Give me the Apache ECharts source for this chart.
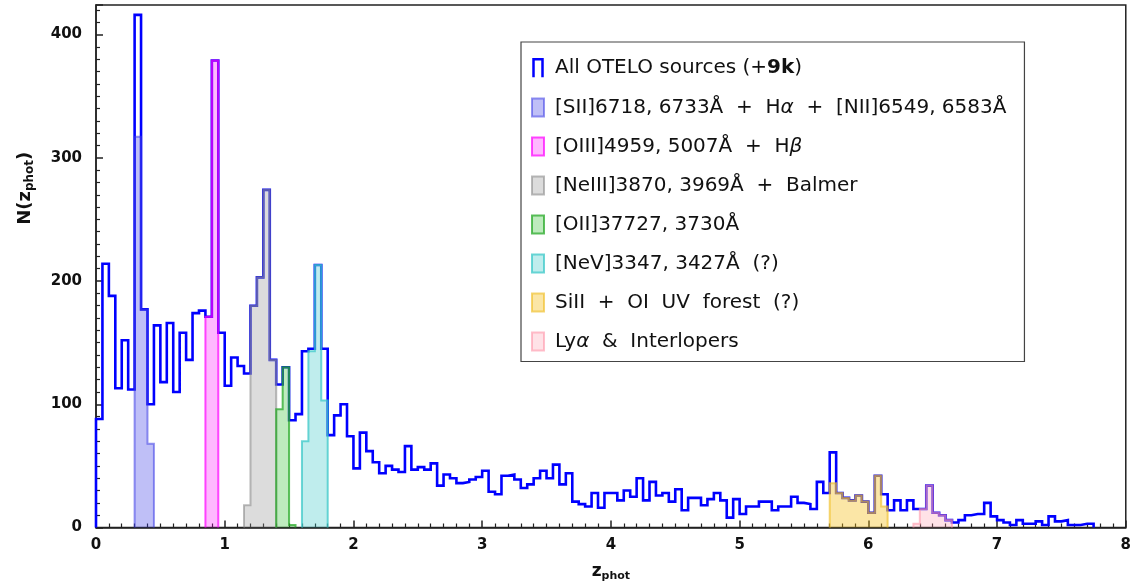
<!DOCTYPE html>
<html>
<head>
<meta charset="utf-8">
<script src="https://cdn.jsdelivr.net/npm/echarts@6/dist/echarts.min.js"></script>
<style>
html,body{margin:0;padding:0;background:#fff;}
#chart{width:1134px;height:587px;}
</style>
</head>
<body>
<div id="chart"></div>
<script>
// photometric redshift histogram, bins of 0.05 starting at z = 0
const binWidth = 0.05;
const allStart = 0;
const allCounts = [
  88, 214, 188, 113, 152, 112, 416, 177, 100, 164,
  118, 166, 110, 158, 136, 174, 176, 171, 379, 158,
  115, 138, 131, 125, 180, 203, 274, 136, 116, 130,
  87, 92, 143, 145, 213, 145, 75, 91, 100, 74,
  48, 77, 62, 53, 44, 50, 47, 45, 66, 47,
  49, 47, 52, 34, 43, 40, 36, 37, 39, 41,
  46, 29, 27, 42, 43, 39, 32, 35, 40, 46,
  40, 51, 35, 44, 21, 19, 17, 28, 16, 28,
  28, 22, 30, 25, 40, 22, 37, 26, 28, 21,
  31, 14, 24, 24, 18, 23, 28, 22, 8, 23,
  11, 17, 17, 21, 21, 14, 17, 17, 25, 20,
  19, 15, 37, 28, 61, 28, 24, 22, 26, 21,
  12, 42, 27, 14, 22, 14, 22, 15, 15, 34,
  12, 10, 6, 4, 6, 10, 11, 11, 20, 9,
  6, 4, 2, 6, 3, 3, 5, 2, 9, 5,
  6, 2, 2, 3, 3
];
// line-identified subsamples: first bin edge + counts
const siiStart = 0.30,  siiCounts = [317, 177, 68];
const oiiiStart = 0.85, oiiiCounts = [171, 379];
const neiiiStart = 1.15, neiiiCounts = [18, 180, 203, 274, 136];
const oiiStart = 1.40,  oiiCounts = [96, 130, 2];
const nevStart = 1.60,  nevCounts = [70, 143, 213, 103];
const siStart = 5.70,   siCounts = [36, 28, 24, 22, 26, 21, 12, 42, 17];
const lyaStart = 6.35,  lyaCounts = [3, 15, 34, 12, 10, 6];

const seriesNames = ['all', 'sii', 'oiii', 'neiii', 'oii', 'nev', 'si', 'lya'];
const legendLabels = {
  all: '{t|All OTELO sources (+}{b|9k}{t|)}',
  sii: '{t|[SII]6718, 6733Å  +  H}{i|α}{t|  +  [NII]6549, 6583Å}',
  oiii: '{t|[OIII]4959, 5007Å  +  H}{i|β}',
  neiii: '{t|[NeIII]3870, 3969Å  +  Balmer}',
  oii: '{t|[OII]37727, 3730Å}',
  nev: '{t|[NeV]3347, 3427Å  (?)}',
  si: '{t|SiII  +  OI  UV  forest  (?)}',
  lya: '{t|Ly}{i|α}{t|  &  Interlopers}'
};

const FONT = 'DejaVu Sans';

function steps(start, counts) {
  const end = +(start + counts.length * binWidth).toFixed(3);
  const pts = [[start, 0]];
  counts.forEach((c, i) => pts.push([+(start + i * binWidth).toFixed(3), c]));
  pts.push([end, counts[counts.length - 1]]);
  pts.push([end, 0]);
  return pts;
}

function hist(name, start, counts, line, fill, width, z) {
  const s = {
    name: name, type: 'line', step: 'end', data: steps(start, counts),
    symbol: 'none', silent: true, z: z,
    lineStyle: {color: line, width: width, join: 'miter'},
    itemStyle: {color: line}
  };
  if (fill) s.areaStyle = {color: fill, opacity: 1};
  return s;
}

const styles = {
  all:   {line: '#0000ff', fill: null},
  sii:   {line: 'rgba(60,60,230,0.55)', fill: 'rgba(60,60,230,0.33)'},
  oiii:  {line: 'rgba(255,0,255,0.7)', fill: 'rgba(255,0,255,0.28)'},
  neiii: {line: 'rgba(140,140,140,0.6)', fill: 'rgba(150,150,150,0.33)'},
  oii:   {line: 'rgba(40,170,40,0.75)', fill: 'rgba(40,190,40,0.3)'},
  nev:   {line: 'rgba(60,200,200,0.75)', fill: 'rgba(60,200,200,0.33)'},
  si:    {line: 'rgba(240,190,40,0.65)', fill: 'rgba(245,190,20,0.38)'},
  lya:   {line: 'rgba(255,150,170,0.6)', fill: 'rgba(255,150,170,0.28)'}
};

const series = [
  hist('all', allStart, allCounts, styles.all.line, null, 2.6, 2),
  hist('sii', siiStart, siiCounts, styles.sii.line, styles.sii.fill, 2, 3),
  hist('oiii', oiiiStart, oiiiCounts, styles.oiii.line, styles.oiii.fill, 2, 3),
  hist('neiii', neiiiStart, neiiiCounts, styles.neiii.line, styles.neiii.fill, 2, 3),
  hist('oii', oiiStart, oiiCounts, styles.oii.line, styles.oii.fill, 2, 3),
  hist('nev', nevStart, nevCounts, styles.nev.line, styles.nev.fill, 2, 3),
  hist('si', siStart, siCounts, styles.si.line, styles.si.fill, 2, 3),
  hist('lya', lyaStart, lyaCounts, styles.lya.line, styles.lya.fill, 2, 3)
];

const legendData = seriesNames.map(function (n, i) {
  if (i === 0) {
    return {name: n, icon: 'path://M0,20L0,0L10,0L10,20',
      itemStyle: {color: 'rgba(0,0,0,0)', borderColor: '#0000ff', borderWidth: 2.5}};
  }
  return {name: n, icon: 'rect',
    itemStyle: {color: styles[n].fill, borderColor: styles[n].line, borderWidth: 2}};
});

const chart = echarts.init(document.getElementById('chart'), null, {renderer: 'canvas'});
chart.setOption({
  animation: false,
  backgroundColor: '#fff',
  grid: {left: 96, right: 8, top: 5, bottom: 55, show: true, borderColor: '#222', borderWidth: 1.5},
  xAxis: {
    type: 'value', min: 0, max: 8, interval: 1,
    name: '{z|z}{s|phot}', nameLocation: 'middle', nameGap: 34,
    nameTextStyle: {rich: {
      z: {fontFamily: FONT, fontSize: 17, fontWeight: 'bold', color: '#111', lineHeight: 20},
      s: {fontFamily: FONT, fontSize: 11, fontWeight: 'bold', color: '#111', lineHeight: 11, padding: [10, 0, 0, 0]}
    }},
    axisLine: {onZero: false, lineStyle: {color: '#222', width: 1.5}},
    axisTick: {inside: true, length: 7, lineStyle: {color: '#222', width: 1.5}},
    minorTick: {show: true, splitNumber: 10, length: 4, lineStyle: {color: '#222', width: 1.2}},
    axisLabel: {fontFamily: FONT, fontSize: 15, fontWeight: 'bold', color: '#111', margin: 10},
    splitLine: {show: false}
  },
  yAxis: {
    type: 'value', min: 0, max: 424, interval: 100,
    name: '{n|N(}{z|z}{s|phot}{n|)}', nameLocation: 'middle', nameRotate: 90, nameGap: 60,
    nameTextStyle: {padding: [0, 0, 0, 156], rich: {
      n: {fontFamily: FONT, fontSize: 18, fontWeight: 'bold', color: '#111', lineHeight: 22},
      z: {fontFamily: FONT, fontSize: 18, fontWeight: 'bold', color: '#111', lineHeight: 22},
      s: {fontFamily: FONT, fontSize: 12, fontWeight: 'bold', color: '#111', lineHeight: 12, padding: [10, 0, 0, 0]}
    }},
    axisLine: {show: true, lineStyle: {color: '#222', width: 1.5}},
    axisTick: {inside: true, length: 7, lineStyle: {color: '#222', width: 1.5}},
    minorTick: {show: true, splitNumber: 10, length: 4, lineStyle: {color: '#222', width: 1.2}},
    axisLabel: {fontFamily: FONT, fontSize: 15, fontWeight: 'bold', color: '#111', margin: 14, showMaxLabel: false},
    splitLine: {show: false}
  },
  legend: {
    orient: 'vertical', left: 521, top: 42, selectedMode: false,
    itemWidth: 12, itemHeight: 18, itemGap: 19,
    borderColor: '#444', borderWidth: 1.2, padding: [16, 18, 10, 10],
    backgroundColor: '#fff',
    textStyle: {fontFamily: FONT, fontSize: 20, color: '#111', padding: [0, 0, 0, 6], rich: {
      t: {fontFamily: FONT, fontSize: 20, color: '#111'},
      b: {fontFamily: FONT, fontSize: 20, color: '#111', fontWeight: 'bold'},
      i: {fontFamily: FONT, fontSize: 20, color: '#111', fontStyle: 'italic'}
    }},
    formatter: function (name) { return legendLabels[name]; },
    data: legendData
  },
  series: series
});
</script>
</body>
</html>
